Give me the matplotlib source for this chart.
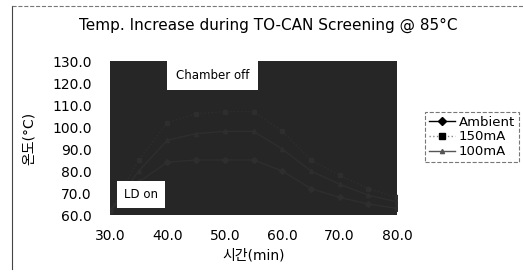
import matplotlib.pyplot as plt
from matplotlib.lines import Line2D

plt.rcParams['font.family'] = ['DejaVu Sans', 'Noto Sans CJK KR']

# data (lines are barely visible in the scanned original, values estimated)
time_min = [30, 35, 40, 45, 50, 55, 60, 65, 70, 75, 80]
ambient = [62, 75, 84, 85, 85, 85, 80, 72, 68, 65, 63]
i150 = [62, 85, 102, 106, 107, 107, 98, 85, 78, 72, 68]
i100 = [62, 80, 94, 97, 98, 98, 90, 80, 74, 69, 66]

x_ticks = [30, 40, 50, 60, 70, 80]
y_ticks = [60, 70, 80, 90, 100, 110, 120, 130]

fig = plt.figure(figsize=(5.23, 2.74), dpi=100)
ax = fig.add_axes([110 / 523, 1 - 215 / 274, 287 / 523, 154 / 274])
ax.set_facecolor('#262626')

ax.plot(time_min, ambient, color='#2e2e2e', marker='D', ms=3, lw=1, label='Ambient')
ax.plot(time_min, i150, color='#2e2e2e', marker='s', ms=3, lw=1, ls=':', label='150mA')
ax.plot(time_min, i100, color='#2e2e2e', marker='^', ms=3, lw=1, label='100mA')

ax.set_xlim(30, 80)
ax.set_ylim(60, 130)
ax.set_xticks(x_ticks)
ax.set_yticks(y_ticks)
ax.set_xticklabels([f'{v:.1f}' for v in x_ticks], fontsize=10)
ax.set_yticklabels([f'{v:.1f}' for v in y_ticks], fontsize=10)
ax.tick_params(length=0)
ax.tick_params(axis='y', pad=13)
ax.tick_params(axis='x', pad=10)
for s in ax.spines.values():
    s.set_visible(False)

ax.set_xlabel('시간(min)', fontsize=10, labelpad=4)
ax.set_ylabel('온도(°C)', fontsize=10, labelpad=12)

ax.text(47.9, 123.6, 'Chamber off', fontsize=8.5, ha='center', va='center',
        bbox=dict(facecolor='white', edgecolor='none', boxstyle='square,pad=0.75'))
ax.text(35.4, 69.5, 'LD on', fontsize=8.5, ha='center', va='center',
        bbox=dict(facecolor='white', edgecolor='none', boxstyle='square,pad=0.6'))

fig.text(268 / 523, 1 - 25 / 274, 'Temp. Increase during TO-CAN Screening @ 85°C',
         fontsize=11, ha='center', va='center')

handles = [
    Line2D([], [], color='black', marker='D', ms=4, lw=1),
    Line2D([], [], color='#888888', marker='s', ms=4, mfc='black', mec='black', lw=1, ls=':'),
    Line2D([], [], color='#555555', marker='^', ms=3, lw=1),
]
leg = fig.legend(handles, ['Ambient', '150mA', '100mA'], loc='center',
                 bbox_to_anchor=(472 / 523, 1 - 137 / 274), fontsize=9.5,
                 frameon=True, fancybox=False, handlelength=2, handletextpad=0.3,
                 borderpad=0.3, labelspacing=0.15, borderaxespad=0)
leg.get_frame().set_edgecolor('#555555')
leg.get_frame().set_linestyle('--')
leg.get_frame().set_linewidth(0.8)

# page border from the scan
fig.add_artist(Line2D([12 / 523, 12 / 523], [0.02, 1 - 6 / 274], color='#444444', lw=0.8,
                      transform=fig.transFigure))
fig.add_artist(Line2D([12 / 523, 1.0], [1 - 6 / 274, 1 - 6 / 274], color='#777777', lw=0.8,
                      ls='--', transform=fig.transFigure))

fig.savefig('out.png', dpi=100)
